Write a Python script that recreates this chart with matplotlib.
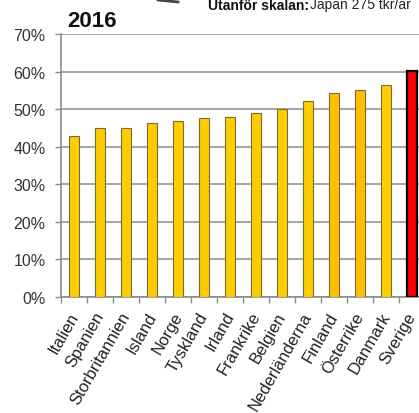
import matplotlib
matplotlib.use("Agg")
import matplotlib.pyplot as plt
from matplotlib.ticker import PercentFormatter, MultipleLocator
from matplotlib.transforms import ScaledTranslation, blended_transform_factory
import numpy as np

plt.rcParams['font.family'] = ['Liberation Sans', 'DejaVu Sans']

countries = ['Italien', 'Spanien', 'Storbritannien', 'Island', 'Norge', 'Tyskland',
             'Irland', 'Frankrike', 'Belgien', 'Nederländerna', 'Finland',
             'Österrike', 'Danmark', 'Sverige']
values = [42.9, 45.1, 45.1, 46.2, 46.9, 47.6, 47.9, 49.0, 50.1, 52.1, 54.2, 55.1, 56.5, 60.1]
highlight = 'Sverige'
orange_ones = ['Finland', 'Österrike']

W, H = 419, 414
fig = plt.figure(figsize=(W / 100, H / 100), dpi=100)
ax = fig.add_axes([61 / W, 116 / H, 364 / W, 263 / H])

x = np.arange(len(countries))
colors = []
edges = []
lws = []
for c in countries:
    if c == highlight:
        colors.append('#FF0000'); edges.append('#000000'); lws.append(1.6)
    elif c in orange_ones:
        colors.append('#FFC000'); edges.append('#7a6a3a'); lws.append(0.8)
    else:
        colors.append('#FFCC00'); edges.append('#7a6a3a'); lws.append(0.8)

ax.bar(x, values, width=0.42, color=colors, edgecolor=edges, linewidth=lws, zorder=3)

ax.set_xlim(-0.5, len(countries) - 0.5)
ax.set_ylim(0, 70)
ax.yaxis.set_major_locator(MultipleLocator(10))
ax.yaxis.set_major_formatter(PercentFormatter(decimals=0))
ax.grid(axis='y', color='#a8a8a8', linewidth=1.5, zorder=0)
ax.set_axisbelow(True)

for s in ['top', 'right']:
    ax.spines[s].set_visible(False)
for s in ['left', 'bottom']:
    ax.spines[s].set_color('#8c8c8c')
    ax.spines[s].set_linewidth(1.2)

ax.set_xticks(x)
ax.set_xticklabels([''] * len(countries))
ax.set_xticks(np.arange(-0.5, len(countries), 1), minor=True)
ax.tick_params(axis='x', which='major', length=0)
ax.tick_params(axis='x', which='minor', length=4, color='#8c8c8c', width=1)
ax.tick_params(axis='y', length=4, color='#8c8c8c', width=1, pad=7,
               labelsize=11.5, labelcolor='#333333')

base = blended_transform_factory(ax.transData, ax.transAxes)
trans = base + ScaledTranslation(-6 / 100, -12 / 100, fig.dpi_scale_trans)
for i, c in enumerate(countries):
    ax.text(x[i], 0, c, transform=trans, rotation=60, ha='right', va='top',
            rotation_mode='anchor', fontsize=12, color='#222222', clip_on=False)

fig.text(67 / W, 1 - 27 / H, '2016', fontsize=16, fontweight='bold', color='#111111',
         ha='left', va='baseline')

fig.text(208 / W, 1 - 9.5 / H, 'Utanför skalan:', fontsize=10, fontweight='bold',
         color='#111111', ha='left', va='baseline')
fig.text(310 / W, 1 - 9.5 / H, 'Japan 275 tkr/år', fontsize=10,
         color='#222222', ha='left', va='baseline')
fig.add_artist(plt.Line2D([158 / W, 178 / W], [1 - 1 / H, 1 - 3 / H], color='#444444',
                          linewidth=2, transform=fig.transFigure))

fig.savefig('out.png', dpi=100)
